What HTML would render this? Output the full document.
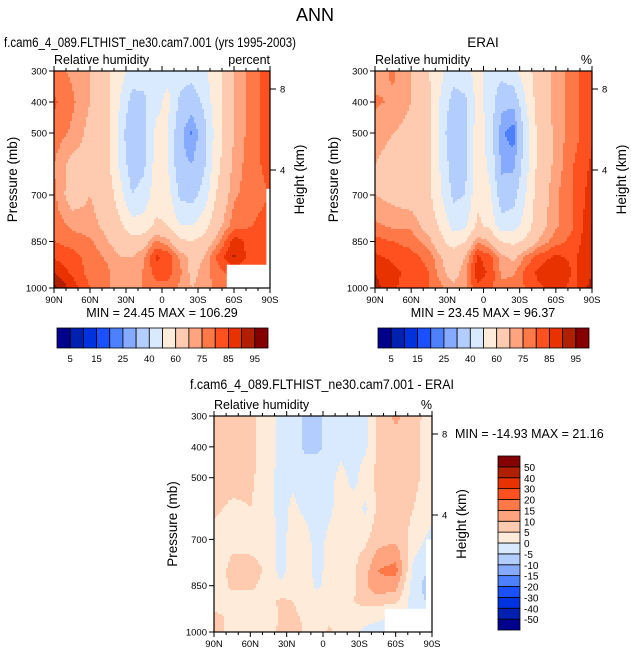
<!DOCTYPE html>
<html><head><meta charset="utf-8">
<style>
html,body{margin:0;padding:0;background:#fff;}
body{width:631px;height:656px;overflow:hidden;font-family:"Liberation Sans",Arial,sans-serif;}
svg text{font-family:"Liberation Sans",Arial,sans-serif;}
</style></head>
<body>
<svg id="fig" width="631" height="656" viewBox="0 0 631 656" xmlns="http://www.w3.org/2000/svg">
<text x="315" y="21" font-size="18" text-anchor="middle">ANN</text>
</svg>
<script>
// ---- data ----
const lats = [90,75,60,45,35,25,15,5,-5,-15,-25,-35,-45,-60,-75,-90];
const plevs = [300,400,500,600,700,800,850,900,950,1000];
const modelRH = [
[77,74,70,62,54,46,44,46,48,44,44,48,56,70,78,82],
[81,76,70,62,50,36,38,48,52,38,34,42,56,70,78,82],
[78,74,68,62,46,30,36,52,50,32,24,36,54,70,78,82],
[75,68,68,62,48,34,38,54,50,32,30,38,56,72,78,82],
[76,66,70,66,54,40,44,56,54,38,36,44,60,74,78,80],
[78,74,72,68,62,54,54,62,60,50,50,56,66,78,80,82],
[80,78,76,70,66,64,66,76,72,62,60,64,72,88,82,80],
[84,82,78,74,70,70,74,86,84,74,68,70,80,91,82,80],
[90,84,78,76,70,70,76,82,82,76,68,72,78,82,80,80],
[97,88,80,76,72,72,76,78,78,74,70,72,76,78,78,78]];
const eraiRH = [
[72,76,70,60,52,44,46,54,46,44,48,56,64,72,78,84],
[76,74,70,62,48,36,38,54,46,32,32,50,64,72,78,84],
[72,70,68,62,46,30,36,56,46,26,22,44,62,72,78,84],
[70,68,66,62,48,34,38,56,48,28,28,46,62,72,80,86],
[70,68,66,62,50,38,40,58,52,34,36,50,64,74,80,88],
[76,74,74,66,58,46,48,62,58,44,46,54,66,74,80,90],
[82,80,78,72,62,56,60,74,70,60,58,62,70,78,82,90],
[86,84,82,78,70,64,70,86,82,72,68,76,82,86,84,90],
[90,86,84,80,72,66,74,88,84,74,74,82,86,90,84,90],
[92,86,82,80,76,72,74,84,82,76,78,80,84,86,84,92]];
const diffRH = [
[7,7,6,3,-2,-2,-6,-6,-3,-2,-2,-1,6,11,7,2],
[7,7,6,3,-2,-2,-6,-6,-4,-2,-2,-1,6,8,6,3],
[7,7,6,2,-2,-1,-2,-2,-2,2,-2,3,6,7,6,3],
[6,4,5,2,-2,1,-1,-2,-1,2,3,-1,6,7,5,2],
[3,4,3,3,-2,2,2,-2,1,3,4,4,8,9,3,-2],
[3,6,7,4,-2,2,3,-2,2,3,4,8,15,17,-2,-6],
[2,6,6,3,1,3,3,-1,2,3,4,9,14,12,-3,-8],
[3,3,3,3,6,5,3,2,3,4,5,6,7,6,-3,-6],
[6,4,3,2,6,6,4,2,3,4,4,3,1,-1,0,0],
[7,3,3,3,6,10,4,3,6,3,2,-2,-2,0,0,0]];
const rhLevels = [5,10,15,20,25,30,40,50,60,70,75,80,85,90,95];
const diffLevels = [-50,-40,-30,-20,-15,-10,-5,0,5,10,15,20,30,40,50];
const rhLabels = ["5","15","25","40","60","75","85","95"];
const diffLabels = ["-50","-40","-30","-20","-15","-10","-5","0","5","10","15","20","30","40","50"];
const pTicks = [300,400,500,700,850,1000];
const latTicks = [90,60,30,0,-30,-60,-90];
const latTickLabels = ["90N","60N","30N","0","30S","60S","90S"];
const hTicks = [[8,"8"],[4,"4"]];
const palette = ["#00008c","#0020b0","#0033e0","#1a50ff","#4d80ff","#86aaff","#b4cdff","#d9eaff","#ffebd9","#ffcbb0","#ffa47e","#ff7848","#ff5020","#e83200","#b02000","#850000"];

const NS="http://www.w3.org/2000/svg";
const svg=document.getElementById('fig');
function mk(tag,attrs,parent){const e=document.createElementNS(NS,tag);for(const k in attrs)e.setAttribute(k,attrs[k]);(parent||svg).appendChild(e);return e;}
function txt(x,y,s,size,anchor,parent){const t=mk('text',{x:x,y:y,'font-size':size,'text-anchor':anchor||'start'},parent);t.textContent=s;return t;}

function interp(grid,lat,p){
  let i=0;while(i<lats.length-2&&lat<lats[i+1])i++;
  let j=0;while(j<plevs.length-2&&p>plevs[j+1])j++;
  const tx=Math.min(1,Math.max(0,(lats[i]-lat)/(lats[i]-lats[i+1])));
  const ty=Math.min(1,Math.max(0,(p-plevs[j])/(plevs[j+1]-plevs[j])));
  const a=grid[j][i],b=grid[j][i+1],c=grid[j+1][i],d=grid[j+1][i+1];
  return (a*(1-tx)+b*tx)*(1-ty)+(c*(1-tx)+d*tx)*ty;
}
function lvl(v,levels){let k=0;while(k<levels.length&&v>=levels[k])k++;return k;}

function panel(o){
  const g=mk('g',{},svg);
  
  
  const X=lat=>o.x0+(90-lat)/180*(o.x1-o.x0);
  const Y=p=>o.y0+(p-300)/700*(o.y1-o.y0);
  const step=2;
  const cg=mk('g',{'shape-rendering':'crispEdges'},g);
  
  
  const W=o.x1-o.x0,H=o.y1-o.y0;
  const nx=Math.ceil(W/step),ny=Math.ceil(H/step);
  for(let r=0;r<ny;r++){
    const y=o.y0+r*step,h=Math.min(step,o.y1-y);
    const p=300+(y+h/2-o.y0)/H*700;
    let runStart=0,runC=-1;
    for(let c=0;c<=nx;c++){
      let k=-2;
      if(c<nx){const xc=Math.min(o.x0+c*step+step/2,o.x1);const lat=90-(xc-o.x0)/W*180;k=lvl(interp(o.grid,lat,p),o.levels);}
      if(k!==runC){
        if(runC>=0){const xs=o.x0+runStart*step,xe=Math.min(o.x0+c*step,o.x1);
          const rc=mk('rect',{x:xs,y:y,width:xe-xs,height:h,fill:palette[runC]},cg);
          
          }
        runStart=c;runC=k;
      }
    }
  }
  (o.masks||[]).forEach(m=>{const r=mk('rect',{x:X(m[0]),y:Y(m[1]),width:X(m[2])-X(m[0]),height:Y(1000)-Y(m[1]),fill:'#fff'},g);
    
    });
  const fr=mk('rect',{x:o.x0,y:o.y0,width:W,height:H,fill:'none',stroke:'#000','stroke-width':1.2},g);
  
  
  pTicks.forEach(p=>{mk('line',{x1:o.x0-5,x2:o.x0,y1:Y(p),y2:Y(p),stroke:'#000'},g);
    const t=txt(o.x0-7,Y(p)+3.5,String(p),9.5,'end',g);
    
    });
  for(let lat=90;lat>=-90;lat-=10){const major=lat%30===0;
    mk('line',{x1:X(lat),x2:X(lat),y1:o.y1,y2:o.y1+(major?5:3),stroke:'#000'},g);
    mk('line',{x1:X(lat),x2:X(lat),y1:o.y0,y2:o.y0-(major?5:3),stroke:'#000'},g);}
  latTicks.forEach((lat,i)=>{const t=txt(X(lat),o.y1+15,latTickLabels[i],9.5,'middle',g);
    
    });
  const hy={8:o.y0+18,4:o.y0+99};
  hTicks.forEach(h=>{const yy=hy[h[0]];mk('line',{x1:o.x1,x2:o.x1+6,y1:yy,y2:yy,stroke:'#000'},g);
    const t=txt(o.x1+10,yy+3.5,h[1],9.5,'start',g);
    
    });
  let t=txt(0,0,'Pressure (mb)',13.5,'middle',g);t.setAttribute('transform',`translate(${o.x0-37},${(o.y0+o.y1)/2}) rotate(-90)`);
  
  t=txt(0,0,'Height (km)',13.5,'middle',g);t.setAttribute('transform',`translate(${o.x1+34},${(o.y0+o.y1)/2}) rotate(-90)`);
  
  t=txt(o.x0,o.y0-7,'Relative humidity',12.5,'start',g);
  t=txt(o.x1,o.y0-7,o.unit,12.5,'end',g);
  t=txt(o.tx,o.ty,o.title,13.5,'middle',g);
  if(o.tl){t.setAttribute('textLength',o.tl);t.setAttribute('lengthAdjust','spacingAndGlyphs');}
  t=txt(o.mx,o.my,o.minmax,12.5,o.ma||'middle',g);
}

function hbar(x0,x1,y0,y1,levels,name){
  const g=mk('g',{},svg);
  const n=levels.length+1,w=(x1-x0)/n;
  for(let k=0;k<n;k++){const r=mk('rect',{x:x0+k*w,y:y0,width:w,height:y1-y0,fill:palette[k],stroke:'#000','stroke-width':0.8},g);
    }
  rhLabels.forEach(s=>{const k=levels.indexOf(Number(s))+1;const t=txt(x0+k*w,y1+14,s,9.5,'middle',g);
    });
}
function vbar(x0,x1,y0,y1,levels,name){
  const g=mk('g',{},svg);
  const n=levels.length+1,h=(y1-y0)/n;
  for(let k=0;k<n;k++){const r=mk('rect',{x:x0,y:y1-(k+1)*h,width:x1-x0,height:h,fill:palette[k],stroke:'#000','stroke-width':0.8},g);
    }
  diffLabels.forEach((s,i)=>{const t=txt(x1+4,y1-(i+1)*h+4,s,10,'start',g);
    });
}

panel({name:'model-panel',grid:modelRH,levels:rhLevels,x0:54,x1:270,y0:71,y1:288,unit:'percent',
  title:'f.cam6_4_089.FLTHIST_ne30.cam7.001 (yrs 1995-2003)',tx:150,ty:47,tl:292,minmax:'MIN =  24.45  MAX = 106.29',mx:162,my:317,
  masks:[[-54,925,-90],[-87,680,-90]]});
panel({name:'erai-panel',grid:eraiRH,levels:rhLevels,x0:375,x1:592,y0:71,y1:288,unit:'%',
  title:'ERAI',tx:483,ty:47,minmax:'MIN =  23.45  MAX =  96.37',mx:483,my:317});
panel({name:'difference-panel',grid:diffRH,levels:diffLevels,x0:214,x1:432,y0:416,y1:632,unit:'%',
  title:'f.cam6_4_089.FLTHIST_ne30.cam7.001 - ERAI',tx:322,ty:389,tl:264,minmax:'MIN = -14.93  MAX = 21.16',mx:455,my:438,ma:'start',
  masks:[[-51,925,-90],[-85,700,-90]]});
hbar(57,268,328,348,rhLevels,'model-colorbar');
hbar(378,589,328,348,rhLevels,'erai-colorbar');
vbar(498,520,456,630,diffLevels,'difference-colorbar');
</script>
</body></html>
